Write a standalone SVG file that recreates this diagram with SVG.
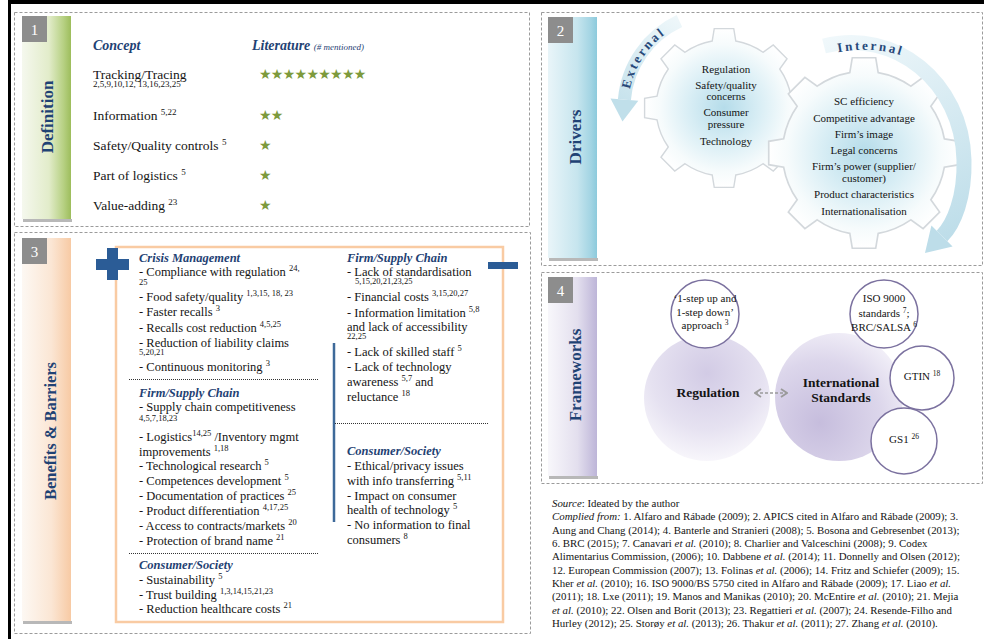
<svg xmlns="http://www.w3.org/2000/svg" width="984" height="639" viewBox="0 0 984 639">
<defs>
<style>
text{font-family:"Liberation Serif","Times New Roman",serif;fill:#141414}
.pan{fill:#fff;stroke:#9b9b9b;stroke-width:1;stroke-dasharray:3 2}
.nb{fill:#8d8d8d}
.nt{fill:#fff;font-size:15px;text-anchor:middle}
.side{font-size:17px;font-weight:bold;fill:#1f4274;text-anchor:middle}
.hd{font-weight:bold;font-style:italic;fill:#1f4274}
.p1{font-size:13.5px}
.b{font-size:12.5px}
.sm{font-size:8.5px}
.st{font-family:"DejaVu Sans",sans-serif;fill:#7d9a3c;font-size:14px;letter-spacing:-0.7px}
.gt{font-size:11px;text-anchor:middle}
.dot{stroke:#333;stroke-width:1;stroke-dasharray:1 1}
.sc{fill:#fff;stroke:#7b719f;stroke-width:1.5}
.ct{font-size:11px;text-anchor:middle}
.big{font-size:13.5px;font-weight:bold;text-anchor:middle}
.src{font-size:10.85px}
.gear{stroke:#d3d8dc;stroke-width:1.4;fill:url(#gGear)}
.arr{fill:none;stroke-linecap:butt}
.lab{font-size:13px;font-weight:bold;fill:#27497a;letter-spacing:2.5px}
</style>
<linearGradient id="gDef" x1="0" y1="0" x2="1" y2="0">
<stop offset="0" stop-color="#f5f8ee"/><stop offset="0.55" stop-color="#e2ecca"/><stop offset="0.85" stop-color="#b6d082"/><stop offset="1" stop-color="#9dbd5c"/>
</linearGradient>
<linearGradient id="gDrv" x1="0" y1="0" x2="1" y2="0">
<stop offset="0" stop-color="#e9f5f9"/><stop offset="0.6" stop-color="#c6e5ee"/><stop offset="0.88" stop-color="#a2d4e3"/><stop offset="1" stop-color="#8ccadc"/>
</linearGradient>
<linearGradient id="gBen" x1="0" y1="0" x2="1" y2="0">
<stop offset="0" stop-color="#fdf8f3"/><stop offset="0.6" stop-color="#fbe6d4"/><stop offset="1" stop-color="#f7caa4"/>
</linearGradient>
<linearGradient id="gFw" x1="0" y1="0" x2="1" y2="0">
<stop offset="0" stop-color="#f8f7fb"/><stop offset="0.6" stop-color="#e3dfee"/><stop offset="1" stop-color="#bdb5d8"/>
</linearGradient>
<radialGradient id="gGear" cx="0.5" cy="0.5" r="0.5">
<stop offset="0" stop-color="#b5dcea"/><stop offset="0.45" stop-color="#d9eef5"/><stop offset="0.8" stop-color="#f6fbfc"/><stop offset="1" stop-color="#ffffff"/>
</radialGradient>
<radialGradient id="gReg" cx="0.5" cy="0.3" r="0.75">
<stop offset="0" stop-color="#d2cbe5"/><stop offset="0.6" stop-color="#e6e2f1"/><stop offset="1" stop-color="#fbfafd"/>
</radialGradient>
<radialGradient id="gStd" cx="0.35" cy="0.7" r="0.8">
<stop offset="0" stop-color="#c6bddd"/><stop offset="0.6" stop-color="#dcd6eb"/><stop offset="1" stop-color="#f5f3fa"/>
</radialGradient>
<linearGradient id="gExt" gradientUnits="userSpaceOnUse" x1="680" y1="20" x2="620" y2="120">
<stop offset="0" stop-color="#eef7fa"/><stop offset="1" stop-color="#c0dfea"/>
</linearGradient>
<linearGradient id="gInt" gradientUnits="userSpaceOnUse" x1="825" y1="40" x2="930" y2="250">
<stop offset="0" stop-color="#f0f8fb"/><stop offset="1" stop-color="#bddde9"/>
</linearGradient>
<path id="gear" class="gear" d="M66.97,-11.81 L79.40,-9.75 L79.40,9.75 L66.97,11.81 A68,68 0 0 1 55.70,39.00 L63.04,49.26 L49.26,63.04 L39.00,55.70 A68,68 0 0 1 11.81,66.97 L9.75,79.40 L-9.75,79.40 L-11.81,66.97 A68,68 0 0 1 -39.00,55.70 L-49.26,63.04 L-63.04,49.26 L-55.70,39.00 A68,68 0 0 1 -66.97,11.81 L-79.40,9.75 L-79.40,-9.75 L-66.97,-11.81 A68,68 0 0 1 -55.70,-39.00 L-63.04,-49.26 L-49.26,-63.04 L-39.00,-55.70 A68,68 0 0 1 -11.81,-66.97 L-9.75,-79.40 L9.75,-79.40 L11.81,-66.97 A68,68 0 0 1 39.00,-55.70 L49.26,-63.04 L63.04,-49.26 L55.70,-39.00 A68,68 0 0 1 66.97,-11.81 Z"/>
<marker id="chev" viewBox="0 0 8 10" refX="7" refY="5" markerWidth="8" markerHeight="10" markerUnits="userSpaceOnUse" orient="auto-start-reverse">
<path d="M1,1 L7,5 L1,9" fill="none" stroke="#9a9a9a" stroke-width="1.8"/>
</marker>
<path id="tpExt" d="M628.9,95.2 A92,92 0 0 1 685.5,22.7"/>
<path id="tpInt" d="M834,53 C880,43 925,56 952,90"/>
</defs>

<rect width="984" height="639" fill="#fff"/>
<rect x="8" y="0" width="976" height="4" fill="#000"/>
<rect x="8" y="0" width="3" height="639" fill="#000"/>

<!-- Panel 1 -->
<g id="panel1">
<rect class="pan" x="14.5" y="12.5" width="515" height="214"/>
<rect x="23" y="219" width="49" height="3" fill="#b8b8b8"/>
<rect x="22" y="16" width="49" height="203" fill="url(#gDef)"/>
<rect class="nb" x="22" y="16" width="25" height="26"/>
<text class="nt" x="34.5" y="34.5">1</text>
<text class="side" transform="translate(53,117) rotate(-90)">Definition</text>
<text class="hd" x="93" y="50" font-size="14">Concept</text>
<text class="hd" x="252" y="50" font-size="14">Literature <tspan font-size="9" font-weight="normal">(# mentioned)</tspan></text>
<g id="def-tracking">
<text class="p1" x="93" y="79">Tracking/Tracing</text>
<text x="93" y="87" font-size="9">2,5,9,10,12, 13,16,23,25</text>
<text class="st" x="259" y="79">★★★★★★★★★</text>
</g>
<g id="def-information">
<text class="p1" x="93" y="120">Information <tspan font-size="9" dy="-5">5,22</tspan></text>
<text class="st" x="259" y="120">★★</text>
</g>
<g id="def-safety">
<text class="p1" x="93" y="150">Safety/Quality controls <tspan font-size="9" dy="-5">5</tspan></text>
<text class="st" x="259" y="150">★</text>
</g>
<g id="def-logistics">
<text class="p1" x="93" y="180">Part of logistics <tspan font-size="9" dy="-5">5</tspan></text>
<text class="st" x="259" y="180">★</text>
</g>
<g id="def-value">
<text class="p1" x="93" y="210">Value-adding <tspan font-size="9" dy="-5">23</tspan></text>
<text class="st" x="259" y="210">★</text>
</g>
</g>

<!-- Panel 2 -->
<g id="panel2">
<rect class="pan" x="541.5" y="12.5" width="441" height="253"/>
<rect x="549" y="258" width="49" height="3" fill="#b8b8b8"/>
<rect x="548" y="17" width="49" height="241" fill="url(#gDrv)"/>
<rect class="nb" x="548" y="17" width="25" height="26"/>
<text class="nt" x="560.5" y="35.5">2</text>
<text class="side" transform="translate(581,137) rotate(-90)" font-size="16">Drivers</text>
</g>
<g id="gear-external">
<use href="#gear" transform="translate(724,108)"/>
<text class="gt" x="726" y="73">Regulation</text>
<text class="gt" x="726" y="89">Safety/quality</text>
<text class="gt" x="726" y="100">concerns</text>
<text class="gt" x="726" y="116">Consumer</text>
<text class="gt" x="726" y="128">pressure</text>
<text class="gt" x="726" y="145">Technology</text>
</g>
<g id="gear-internal">
<use href="#gear" transform="translate(864,153) scale(1.2)"/>
<text class="gt" x="864" y="105">SC  efficiency</text>
<text class="gt" x="864" y="122">Competitive advantage</text>
<text class="gt" x="864" y="138">Firm’s image</text>
<text class="gt" x="864" y="154">Legal concerns</text>
<text class="gt" x="864" y="170">Firm’s power (supplier/</text>
<text class="gt" x="864" y="182">customer)</text>
<text class="gt" x="864" y="198">Product characteristics</text>
<text class="gt" x="864" y="215">Internationalisation</text>
</g>

<!-- Panel 3 -->
<g id="panel3">
<rect class="pan" x="14.5" y="232.5" width="516" height="401"/>
<rect x="23" y="621" width="49" height="3" fill="#b8b8b8"/>
<rect x="22" y="238" width="49" height="383" fill="url(#gBen)"/>
<rect class="nb" x="22" y="238" width="25" height="26"/>
<text class="nt" x="34.5" y="256.5">3</text>
<text class="side" transform="translate(56,431) rotate(-90)" font-size="16" textLength="138" lengthAdjust="spacingAndGlyphs">Benefits &amp; Barriers</text>
<rect x="116" y="247" width="387" height="375" fill="#fff" stroke="#f9cba3" stroke-width="2.5"/>
<rect x="107" y="248" width="11" height="32" fill="#2b5c96"/>
<rect x="96" y="259" width="33" height="11" fill="#2b5c96"/>
<rect x="488" y="262" width="30" height="7" fill="#2b5c96"/>
<line x1="334" y1="343" x2="334" y2="522" stroke="#3e6a9a" stroke-width="2.5"/>
<line class="dot" x1="129" y1="379.5" x2="318" y2="379.5"/>
<line class="dot" x1="129" y1="553.5" x2="318" y2="553.5"/>
<line class="dot" x1="335" y1="423.5" x2="488" y2="423.5"/>
</g>
<g id="benefits-crisis" class="b">
<text class="hd b" x="139" y="262">Crisis Management</text>
<text class="b" x="139" y="276">- Compliance with regulation <tspan class="sm" dy="-5">24,</tspan></text>
<text class="sm" x="139" y="284.5">25</text>
<text class="b" x="139" y="301">- Food safety/quality <tspan class="sm" dy="-5">1,3,15, 18, 23</tspan></text>
<text class="b" x="139" y="316">- Faster recalls <tspan class="sm" dy="-5">3</tspan></text>
<text class="b" x="139" y="332">- Recalls cost reduction <tspan class="sm" dy="-5">4,5,25</tspan></text>
<text class="b" x="139" y="347">- Reduction of liability claims</text>
<text class="sm" x="139" y="355">5,20,21</text>
<text class="b" x="139" y="371">- Continuous monitoring <tspan class="sm" dy="-5">3</tspan></text>
</g>
<g id="benefits-firm">
<text class="hd b" x="139" y="397">Firm/Supply Chain</text>
<text class="b" x="139" y="411">- Supply chain competitiveness</text>
<text class="sm" x="139" y="421">4,5,7,18,23</text>
<text class="b" x="139" y="441">- Logistics<tspan class="sm" dy="-5">14,25</tspan><tspan dy="5"> /Inventory mgmt</tspan></text>
<text class="b" x="139" y="456">improvements <tspan class="sm" dy="-5">1,18</tspan></text>
<text class="b" x="139" y="470">- Technological research <tspan class="sm" dy="-5">5</tspan></text>
<text class="b" x="139" y="485">- Competences development <tspan class="sm" dy="-5">5</tspan></text>
<text class="b" x="139" y="500">- Documentation of practices <tspan class="sm" dy="-5">25</tspan></text>
<text class="b" x="139" y="515">- Product differentiation <tspan class="sm" dy="-5">4,17,25</tspan></text>
<text class="b" x="139" y="530">- Access to contracts/markets <tspan class="sm" dy="-5">20</tspan></text>
<text class="b" x="139" y="545">- Protection of brand name <tspan class="sm" dy="-5">21</tspan></text>
</g>
<g id="benefits-consumer">
<text class="hd b" x="139" y="569">Consumer/Society</text>
<text class="b" x="139" y="584">- Sustainability <tspan class="sm" dy="-5">5</tspan></text>
<text class="b" x="139" y="599">- Trust building <tspan class="sm" dy="-5">1,3,14,15,21,23</tspan></text>
<text class="b" x="139" y="613">- Reduction healthcare costs <tspan class="sm" dy="-5">21</tspan></text>
</g>
<g id="barriers-firm">
<text class="hd b" x="347" y="262">Firm/Supply Chain</text>
<text class="b" x="347" y="276">- Lack of standardisation</text>
<text class="sm" x="355" y="284">5,15,20,21,23,25</text>
<text class="b" x="347" y="301">- Financial costs <tspan class="sm" dy="-5">3,15,20,27</tspan></text>
<text class="b" x="347" y="317">- Information limitation <tspan class="sm" dy="-5">5,8</tspan></text>
<text class="b" x="347" y="331">and lack of accessibility</text>
<text class="sm" x="347" y="339">22,25</text>
<text class="b" x="347" y="356">- Lack of skilled staff <tspan class="sm" dy="-5">5</tspan></text>
<text class="b" x="347" y="371">- Lack of technology</text>
<text class="b" x="347" y="386">awareness <tspan class="sm" dy="-5">5,7</tspan><tspan dy="5"> and</tspan></text>
<text class="b" x="347" y="401">reluctance <tspan class="sm" dy="-5">18</tspan></text>
</g>
<g id="barriers-consumer">
<text class="hd b" x="347" y="455">Consumer/Society</text>
<text class="b" x="347" y="470">- Ethical/privacy issues</text>
<text class="b" x="347" y="485">with info transferring <tspan class="sm" dy="-5">5,11</tspan></text>
<text class="b" x="347" y="500">- Impact on consumer</text>
<text class="b" x="347" y="514">health of technology <tspan class="sm" dy="-5">5</tspan></text>
<text class="b" x="347" y="529">- No information to final</text>
<text class="b" x="347" y="544">consumers <tspan class="sm" dy="-5">8</tspan></text>
</g>

<!-- Panel 4 -->
<g id="panel4">
<rect class="pan" x="541.5" y="272.5" width="441" height="211"/>
<rect x="549" y="476" width="49" height="3" fill="#b8b8b8"/>
<rect x="548" y="277" width="49" height="199" fill="url(#gFw)"/>
<rect class="nb" x="548" y="277" width="25" height="26"/>
<text class="nt" x="560.5" y="295.5">4</text>
<text class="side" transform="translate(581,375) rotate(-90)">Frameworks</text>
</g>
<g id="fw-regulation">
<circle cx="707" cy="398" r="63" fill="url(#gReg)"/>
<text class="big" x="708" y="397">Regulation</text>
</g>
<g id="fw-standards">
<circle cx="839" cy="397" r="64" fill="url(#gStd)"/>
<text class="big" x="841" y="387">International</text>
<text class="big" x="841" y="402">Standards</text>
</g>
<g id="fw-step">
<circle class="sc" cx="705" cy="314" r="34"/>
<text class="ct" x="705" y="302">‘1-step up and</text>
<text class="ct" x="705" y="316">1-step down’</text>
<text class="ct" x="705" y="329">approach <tspan font-size="7.5" dy="-4">3</tspan></text>
</g>
<g id="fw-iso">
<circle class="sc" cx="884" cy="314" r="34"/>
<text class="ct" x="884" y="302">ISO 9000</text>
<text class="ct" x="884" y="317">standards <tspan font-size="7.5" dy="-4">7</tspan><tspan dy="4">;</tspan></text>
<text class="ct" x="884" y="331">BRC/SALSA <tspan font-size="7.5" dy="-4">6</tspan></text>
</g>
<g id="fw-gtin">
<circle class="sc" cx="922" cy="378" r="32"/>
<text class="ct" x="922" y="380">GTIN <tspan font-size="7.5" dy="-4">18</tspan></text>
</g>
<g id="fw-gs1">
<circle class="sc" cx="904" cy="441" r="33"/>
<text class="ct" x="904" y="443">GS1 <tspan font-size="7.5" dy="-4">26</tspan></text>
</g>

<!-- Connectors -->
<g id="connectors">
<path class="arr" d="M679.4,21 A96,96 0 0 0 624.4,99.6" stroke="url(#gExt)" stroke-width="13"/>
<polygon points="638.3,100.8 610.5,98.4 622.5,121.5" fill="#c0dfea"/>
<text class="lab"><textPath href="#tpExt" startOffset="6">External</textPath></text>
<path class="arr" d="M824,46 C895,28 962,82 964,160 C965,197 954,224 942,236" stroke="url(#gInt)" stroke-width="15"/>
<polygon points="952.6,246.6 931.4,225.4 925,253" fill="#bddde9"/>
<text class="lab" font-size="14"><textPath href="#tpInt" startOffset="4">Internal</textPath></text>
<line x1="755" y1="393" x2="787" y2="393" stroke="#9a9a9a" stroke-width="1.5" stroke-dasharray="3 2" marker-start="url(#chev)" marker-end="url(#chev)"/>
</g>

<!-- Source -->
<g id="source" class="src">
<text class="src" x="552" y="507"><tspan font-style="italic">Source</tspan>: Ideated by the author</text>
<text class="src" x="552" y="520.3"><tspan font-style="italic">Complied from:</tspan> 1. Alfaro and Rábade (2009); 2. APICS cited in Alfaro and Rábade (2009); 3.</text>
<text class="src" x="552" y="533.7">Aung and Chang (2014); 4. Banterle and Stranieri (2008); 5. Bosona and Gebresenbet (2013);</text>
<text class="src" x="552" y="547">6. BRC (2015); 7. Canavari <tspan font-style="italic">et al.</tspan> (2010); 8. Charlier and Valceschini (2008); 9. Codex</text>
<text class="src" x="552" y="560.3">Alimentarius Commission, (2006); 10. Dabbene <tspan font-style="italic">et al.</tspan> (2014); 11. Donnelly and Olsen (2012);</text>
<text class="src" x="552" y="573.7">12. European Commission (2007); 13. Folinas <tspan font-style="italic">et al.</tspan> (2006); 14. Fritz and Schiefer (2009); 15.</text>
<text class="src" x="552" y="587">Kher <tspan font-style="italic">et al.</tspan> (2010); 16. ISO 9000/BS 5750 cited in Alfaro and Rábade (2009); 17. Liao <tspan font-style="italic">et al.</tspan></text>
<text class="src" x="552" y="600.3">(2011); 18. Lxe (2011); 19. Manos and Manikas (2010); 20. McEntire <tspan font-style="italic">et al.</tspan> (2010); 21. Mejia</text>
<text class="src" x="552" y="613.7"><tspan font-style="italic">et al.</tspan> (2010); 22. Olsen and Borit (2013); 23. Regattieri <tspan font-style="italic">et al.</tspan> (2007); 24. Resende-Filho and</text>
<text class="src" x="552" y="627">Hurley (2012); 25. Storøy <tspan font-style="italic">et al.</tspan> (2013); 26. Thakur <tspan font-style="italic">et al.</tspan> (2011); 27. Zhang <tspan font-style="italic">et al.</tspan> (2010).</text>
</g>
</svg>
